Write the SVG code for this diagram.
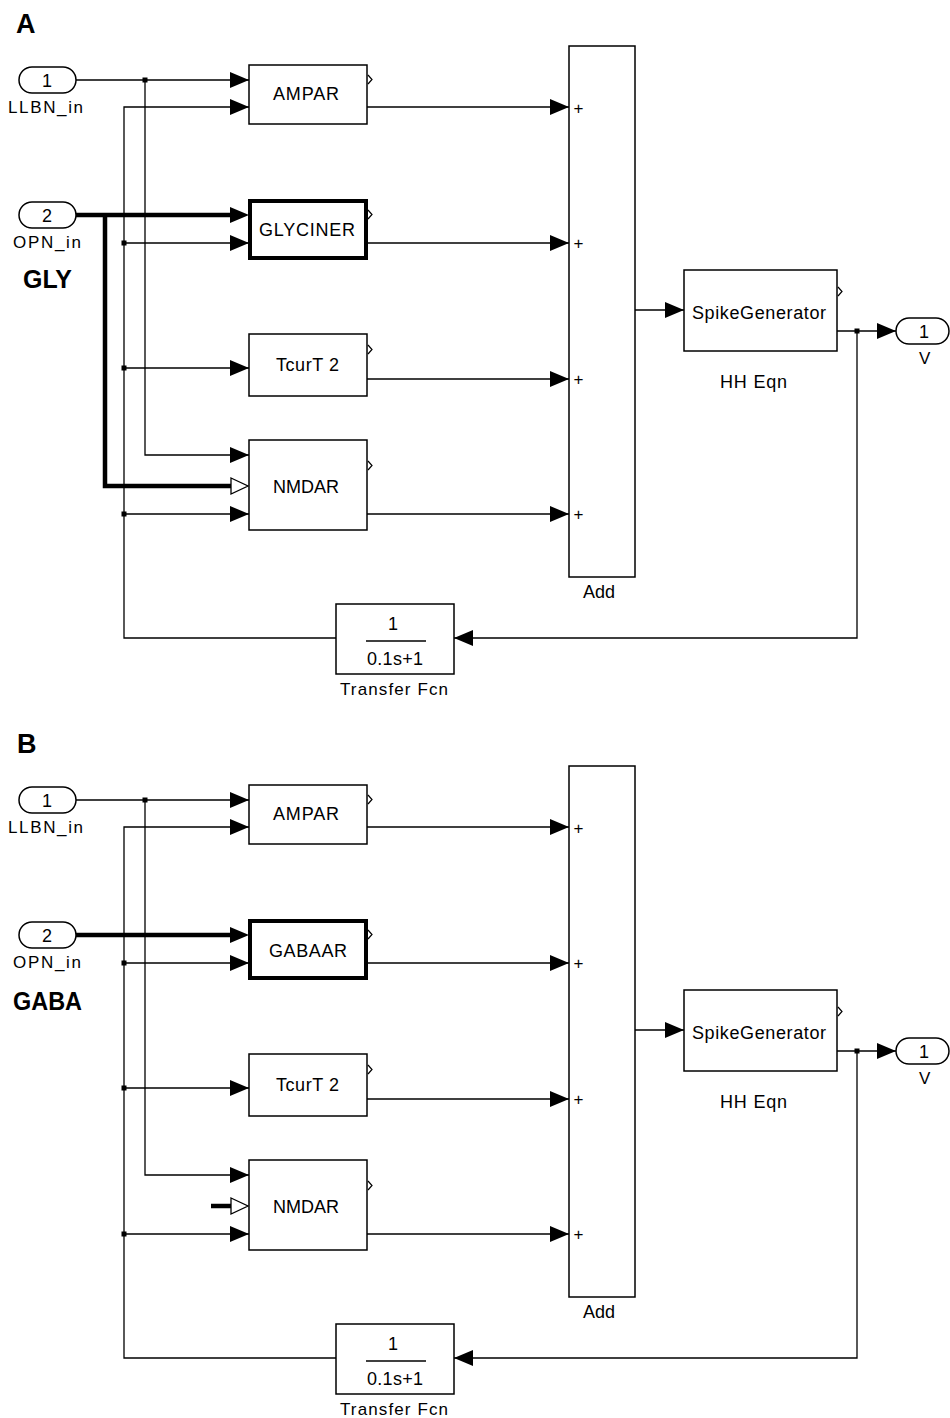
<svg xmlns="http://www.w3.org/2000/svg" width="950" height="1418" viewBox="0 0 950 1418">
<style>
.blk{fill:#fff;stroke:#000;stroke-width:1.5}
.bold{fill:#fff;stroke:#000;stroke-width:4}
.w{fill:none;stroke:#000;stroke-width:1.3}
.tk{fill:none;stroke:#000;stroke-width:4.5}
.car{fill:none;stroke:#000;stroke-width:1.2}
.t{font-family:"Liberation Sans",Arial,sans-serif;font-size:18px;fill:#000}
.s{font-family:"Liberation Sans",Arial,sans-serif;font-size:17px;fill:#000}
.p{font-family:"Liberation Sans",Arial,sans-serif;font-size:17px;fill:#000}
.h{font-family:"Liberation Sans",Arial,sans-serif;font-weight:bold;fill:#000}
.hol{fill:#fff;stroke:#000;stroke-width:1.3}
</style>
<defs>
<marker id="arr" viewBox="0 0 19 16" refX="19" refY="8" markerWidth="19" markerHeight="16" markerUnits="userSpaceOnUse" orient="auto">
<path d="M0,0 L19,8 L0,16 z" fill="#000"/>
</marker>
</defs>
<rect width="950" height="1418" fill="#fff"/>

<!-- ================= PANEL A ================= -->
<g id="panelA">
<text class="h" x="16" y="33" font-size="27">A</text>
<text class="h" x="23" y="288" font-size="25" textLength="49" lengthAdjust="spacingAndGlyphs">GLY</text>

<g id="A_connectors">
<path class="w" d="M76,80 H249" marker-end="url(#arr)"/>
<path class="w" d="M145,80 V455 H249" marker-end="url(#arr)"/>
<path class="w" d="M336,638 H124 V107 H249" marker-end="url(#arr)"/>
<path class="w" d="M124,243 H249" marker-end="url(#arr)"/>
<path class="w" d="M124,368 H249" marker-end="url(#arr)"/>
<path class="w" d="M124,514 H249" marker-end="url(#arr)"/>
<path class="tk" d="M76,215 H236"/>
<path d="M230,207 L249,215 L230,223 z" fill="#000"/>
<path class="tk" d="M105,215 V486 H231"/>
<path class="hol" d="M231,478 L248,486 L231,494 z"/>
<path class="w" d="M367,107 H569" marker-end="url(#arr)"/>
<path class="w" d="M368,243 H569" marker-end="url(#arr)"/>
<path class="w" d="M367,379 H569" marker-end="url(#arr)"/>
<path class="w" d="M367,514 H569" marker-end="url(#arr)"/>
<path class="w" d="M635,310 H684" marker-end="url(#arr)"/>
<path class="w" d="M837,331 H896" marker-end="url(#arr)"/>
<path class="w" d="M857,331 V638 H454" marker-end="url(#arr)"/>
<rect x="142.5" y="77.5" width="5" height="5" fill="#000"/>
<rect x="121.5" y="240.5" width="5" height="5" fill="#000"/>
<rect x="121.5" y="365.5" width="5" height="5" fill="#000"/>
<rect x="121.5" y="511.5" width="5" height="5" fill="#000"/>
<rect x="854.5" y="328.5" width="5" height="5" fill="#000"/>
</g>

<g id="A_in1">
<rect class="blk" x="19" y="67" width="57" height="26" rx="13"/>
<text class="t" x="47" y="87" text-anchor="middle">1</text>
<text class="s" x="8" y="113" textLength="75" lengthAdjust="spacing">LLBN_in</text>
</g>
<g id="A_in2">
<rect class="blk" x="19" y="202" width="57" height="26" rx="13"/>
<text class="t" x="47" y="221.5" text-anchor="middle">2</text>
<text class="s" x="13" y="248" textLength="68" lengthAdjust="spacing">OPN_in</text>
</g>
<g id="A_AMPAR">
<rect class="blk" x="249" y="65" width="118" height="59"/>
<polyline class="car" points="368,75 372,79.5 368,84"/>
<text class="t" x="273" y="100" textLength="66" lengthAdjust="spacing">AMPAR</text>
</g>
<g id="A_GLYCINER">
<rect class="bold" x="250" y="201" width="116" height="57"/>
<polyline class="car" points="368,210 372,214.5 368,219"/>
<text class="t" x="259" y="236" textLength="96" lengthAdjust="spacing">GLYCINER</text>
</g>
<g id="A_TcurT2">
<rect class="blk" x="249" y="334" width="118" height="62"/>
<polyline class="car" points="368,345 372,349.5 368,354"/>
<text class="t" x="276" y="371" textLength="63" lengthAdjust="spacing">TcurT 2</text>
</g>
<g id="A_NMDAR">
<rect class="blk" x="249" y="440" width="118" height="90"/>
<polyline class="car" points="368,461 372,465.5 368,470"/>
<text class="t" x="273" y="493" textLength="66" lengthAdjust="spacing">NMDAR</text>
</g>
<g id="A_Add">
<rect class="blk" x="569" y="46" width="66" height="531"/>
<text class="p" x="578.5" y="113.5" text-anchor="middle">+</text>
<text class="p" x="578.5" y="249" text-anchor="middle">+</text>
<text class="p" x="578.5" y="385" text-anchor="middle">+</text>
<text class="p" x="578.5" y="520" text-anchor="middle">+</text>
<text class="t" x="583" y="598" textLength="32" lengthAdjust="spacing">Add</text>
</g>
<g id="A_Spike">
<rect class="blk" x="684" y="270" width="153" height="81"/>
<polyline class="car" points="838,287 842,291.5 838,296"/>
<text class="t" x="692" y="319" textLength="134" lengthAdjust="spacing">SpikeGenerator</text>
<text class="t" x="720" y="388" textLength="67" lengthAdjust="spacing">HH Eqn</text>
</g>
<g id="A_out">
<rect class="blk" x="896" y="318" width="53" height="26" rx="13"/>
<text class="t" x="924" y="338" text-anchor="middle">1</text>
<text class="s" x="919" y="364" textLength="12" lengthAdjust="spacing">V</text>
</g>
<g id="A_TF">
<rect class="blk" x="336" y="604" width="118" height="70"/>
<text class="t" x="393" y="630" text-anchor="middle">1</text>
<line x1="366" y1="641" x2="426" y2="641" stroke="#000" stroke-width="1.3"/>
<text class="t" x="367" y="665" textLength="56" lengthAdjust="spacing">0.1s+1</text>
<text class="s" x="340" y="695" textLength="108" lengthAdjust="spacing">Transfer Fcn</text>
</g>
</g>

<!-- ================= PANEL B ================= -->
<g id="panelB" transform="translate(0,720)">
<text class="h" x="17" y="33" font-size="27">B</text>
<text class="h" x="13" y="290" font-size="25" textLength="69" lengthAdjust="spacingAndGlyphs">GABA</text>

<g id="B_connectors">
<path class="w" d="M76,80 H249" marker-end="url(#arr)"/>
<path class="w" d="M145,80 V455 H249" marker-end="url(#arr)"/>
<path class="w" d="M336,638 H124 V107 H249" marker-end="url(#arr)"/>
<path class="w" d="M124,243 H249" marker-end="url(#arr)"/>
<path class="w" d="M124,368 H249" marker-end="url(#arr)"/>
<path class="w" d="M124,514 H249" marker-end="url(#arr)"/>
<path class="tk" d="M76,215 H236"/>
<path d="M230,207 L249,215 L230,223 z" fill="#000"/>
<path class="tk" d="M211,486 H231"/>
<path class="hol" d="M231,478 L248,486 L231,494 z"/>
<path class="w" d="M367,107 H569" marker-end="url(#arr)"/>
<path class="w" d="M368,243 H569" marker-end="url(#arr)"/>
<path class="w" d="M367,379 H569" marker-end="url(#arr)"/>
<path class="w" d="M367,514 H569" marker-end="url(#arr)"/>
<path class="w" d="M635,310 H684" marker-end="url(#arr)"/>
<path class="w" d="M837,331 H896" marker-end="url(#arr)"/>
<path class="w" d="M857,331 V638 H454" marker-end="url(#arr)"/>
<rect x="142.5" y="77.5" width="5" height="5" fill="#000"/>
<rect x="121.5" y="240.5" width="5" height="5" fill="#000"/>
<rect x="121.5" y="365.5" width="5" height="5" fill="#000"/>
<rect x="121.5" y="511.5" width="5" height="5" fill="#000"/>
<rect x="854.5" y="328.5" width="5" height="5" fill="#000"/>
</g>

<g id="B_in1">
<rect class="blk" x="19" y="67" width="57" height="26" rx="13"/>
<text class="t" x="47" y="87" text-anchor="middle">1</text>
<text class="s" x="8" y="113" textLength="75" lengthAdjust="spacing">LLBN_in</text>
</g>
<g id="B_in2">
<rect class="blk" x="19" y="202" width="57" height="26" rx="13"/>
<text class="t" x="47" y="221.5" text-anchor="middle">2</text>
<text class="s" x="13" y="248" textLength="68" lengthAdjust="spacing">OPN_in</text>
</g>
<g id="B_AMPAR">
<rect class="blk" x="249" y="65" width="118" height="59"/>
<polyline class="car" points="368,75 372,79.5 368,84"/>
<text class="t" x="273" y="100" textLength="66" lengthAdjust="spacing">AMPAR</text>
</g>
<g id="B_GABAAR">
<rect class="bold" x="250" y="201" width="116" height="57"/>
<polyline class="car" points="368,210 372,214.5 368,219"/>
<text class="t" x="269" y="237" textLength="78" lengthAdjust="spacing">GABAAR</text>
</g>
<g id="B_TcurT2">
<rect class="blk" x="249" y="334" width="118" height="62"/>
<polyline class="car" points="368,345 372,349.5 368,354"/>
<text class="t" x="276" y="371" textLength="63" lengthAdjust="spacing">TcurT 2</text>
</g>
<g id="B_NMDAR">
<rect class="blk" x="249" y="440" width="118" height="90"/>
<polyline class="car" points="368,461 372,465.5 368,470"/>
<text class="t" x="273" y="493" textLength="66" lengthAdjust="spacing">NMDAR</text>
</g>
<g id="B_Add">
<rect class="blk" x="569" y="46" width="66" height="531"/>
<text class="p" x="578.5" y="113.5" text-anchor="middle">+</text>
<text class="p" x="578.5" y="249" text-anchor="middle">+</text>
<text class="p" x="578.5" y="385" text-anchor="middle">+</text>
<text class="p" x="578.5" y="520" text-anchor="middle">+</text>
<text class="t" x="583" y="598" textLength="32" lengthAdjust="spacing">Add</text>
</g>
<g id="B_Spike">
<rect class="blk" x="684" y="270" width="153" height="81"/>
<polyline class="car" points="838,287 842,291.5 838,296"/>
<text class="t" x="692" y="319" textLength="134" lengthAdjust="spacing">SpikeGenerator</text>
<text class="t" x="720" y="388" textLength="67" lengthAdjust="spacing">HH Eqn</text>
</g>
<g id="B_out">
<rect class="blk" x="896" y="318" width="53" height="26" rx="13"/>
<text class="t" x="924" y="338" text-anchor="middle">1</text>
<text class="s" x="919" y="364" textLength="12" lengthAdjust="spacing">V</text>
</g>
<g id="B_TF">
<rect class="blk" x="336" y="604" width="118" height="70"/>
<text class="t" x="393" y="630" text-anchor="middle">1</text>
<line x1="366" y1="641" x2="426" y2="641" stroke="#000" stroke-width="1.3"/>
<text class="t" x="367" y="665" textLength="56" lengthAdjust="spacing">0.1s+1</text>
<text class="s" x="340" y="695" textLength="108" lengthAdjust="spacing">Transfer Fcn</text>
</g>
</g>
</svg>
